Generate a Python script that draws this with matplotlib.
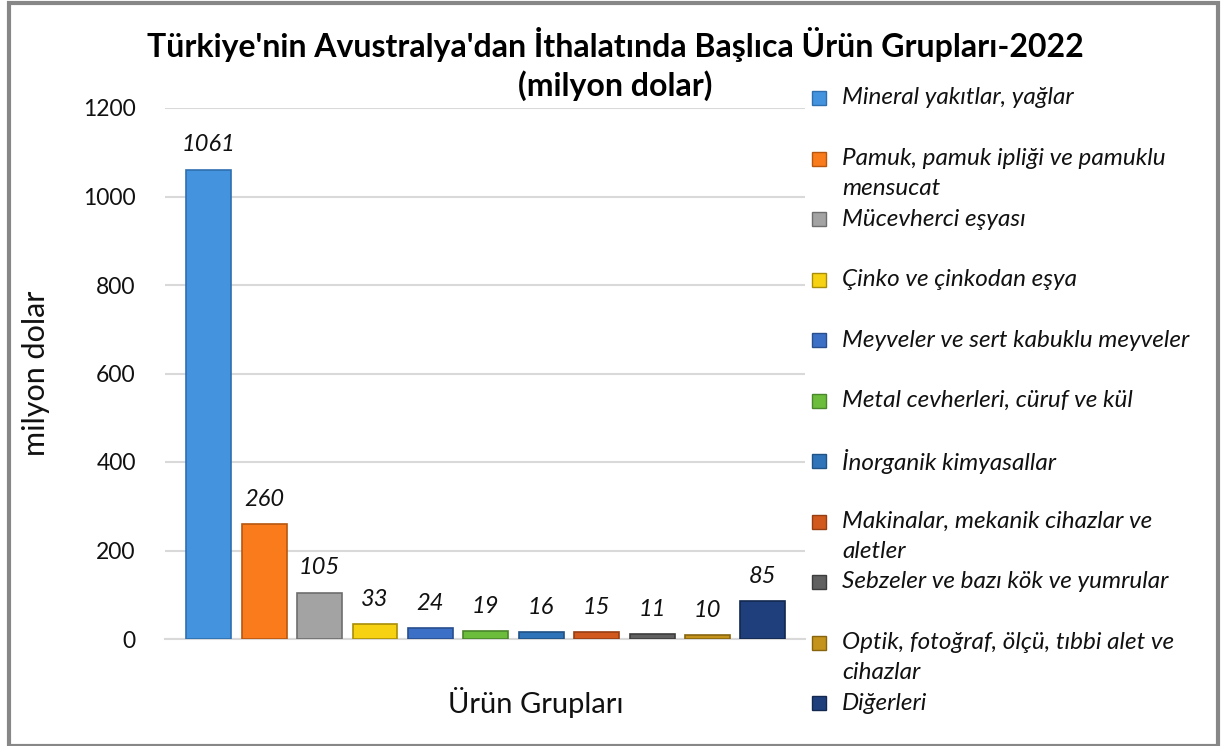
import matplotlib
matplotlib.use("Agg")
import matplotlib.pyplot as plt
from matplotlib.patches import Rectangle

# Veriler
categories = [
    "Mineral yakıtlar, yağlar",
    "Pamuk, pamuk ipliği ve pamuklu\nmensucat",
    "Mücevherci eşyası",
    "Çinko ve çinkodan eşya",
    "Meyveler ve sert kabuklu meyveler",
    "Metal cevherleri, cüruf ve kül",
    "İnorganik kimyasallar",
    "Makinalar, mekanik cihazlar ve\naletler",
    "Sebzeler ve bazı kök ve yumrular",
    "Optik, fotoğraf, ölçü, tıbbi alet ve\ncihazlar",
    "Diğerleri",
]
values = [1061, 260, 105, 33, 24, 19, 16, 15, 11, 10, 85]
y_ticks = [0, 200, 400, 600, 800, 1000, 1200]

colors = ["#4393DE", "#F97B1C", "#A3A3A3", "#F6D213", "#3C70C6", "#6CBD3C",
          "#2F74B9", "#D2591E", "#606060", "#C4931C", "#1F3F7C"]
edges = ["#2F6FAF", "#B8560E", "#6E6E6E", "#A88E08", "#284E8E", "#4A862A",
         "#1F5285", "#963E12", "#3C3C3C", "#87650F", "#12284F"]

plt.rcParams["font.family"] = ["Lato", "DejaVu Sans"]

W, H = 1223, 746
fig = plt.figure(figsize=(W / 100, H / 100), dpi=100)
fig.patch.set_facecolor("white")

# dış çerçeve
fig.patches.append(Rectangle((9 / W, 0.5 / H), (1209 / W), (743 / H),
                             transform=fig.transFigure, fill=False,
                             edgecolor="#878787", linewidth=3))

ax = fig.add_axes([165 / W, (H - 639) / H, 640 / W, 531 / H])
x = list(range(len(values)))
ax.bar(x, values, width=0.81, color=colors, edgecolor=edges, linewidth=1.2, zorder=3)

for xi, v in zip(x, values):
    ax.annotate(str(v), (xi, v), xytext=(0, 13), textcoords="offset points",
                ha="center", va="baseline", fontsize=17, style="italic",
                color="#111111")

ax.set_ylim(0, 1200)
ax.set_xlim(-0.79, 10.76)
ax.set_yticks(y_ticks)
ax.set_yticklabels([str(t) for t in y_ticks], fontsize=16.5, color="#111111")
ax.set_xticks([])
ax.tick_params(axis="y", length=0, pad=21)
ax.grid(axis="y", color="#D9D9D9", linewidth=1.5, zorder=0)
for s in ["top", "right", "left"]:
    ax.spines[s].set_visible(False)
ax.spines["bottom"].set_color("#D9D9D9")
ax.spines["bottom"].set_linewidth(1.5)

ax.set_ylabel("milyon dolar", fontsize=22, color="#111111", labelpad=0)
ax.yaxis.set_label_coords(-0.18, 0.5)
fig.text(536 / W, 1 - 703 / H, "Ürün Grupları", fontsize=21, color="#111111",
         ha="center", va="center")

# başlık
fig.text(615 / W, 1 - 44 / H,
         "Türkiye'nin Avustralya'dan İthalatında Başlıca Ürün Grupları-2022",
         fontsize=23, fontweight="bold", ha="center", va="center")
fig.text(615 / W, 1 - 86 / H, "(milyon dolar)",
         fontsize=23, fontweight="bold", ha="center", va="center")

# lejant
y0, step, line_h = 98, 60.5, 30
for i, (lab, c, e) in enumerate(zip(categories, colors, edges)):
    yy = y0 + i * step
    fig.patches.append(Rectangle((812 / W, 1 - (yy + 7) / H), 14 / W, 14 / H,
                                 transform=fig.transFigure, facecolor=c,
                                 edgecolor=e, linewidth=1))
    for k, line in enumerate(lab.split("\n")):
        fig.text(842 / W, 1 - (yy + k * line_h) / H, line, fontsize=17.5,
                 style="italic", ha="left", va="center", color="#111111")

fig.savefig("out.png", dpi=100)
